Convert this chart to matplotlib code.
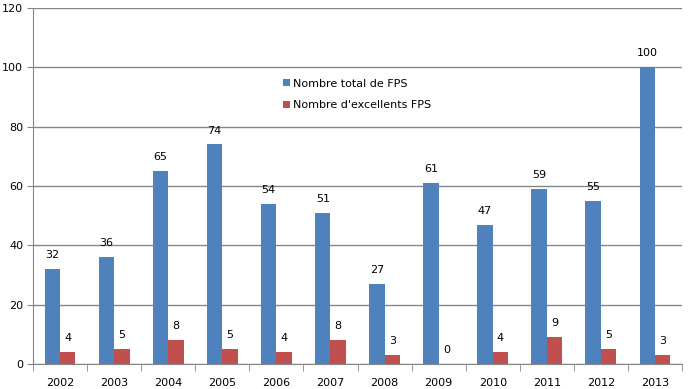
import matplotlib.pyplot as plt
import numpy as np

years = ['2002', '2003', '2004', '2005', '2006', '2007', '2008', '2009', '2010', '2011', '2012', '2013']
total_fps = [32, 36, 65, 74, 54, 51, 27, 61, 47, 59, 55, 100]
excellent_fps = [4, 5, 8, 5, 4, 8, 3, 0, 4, 9, 5, 3]

blue = '#4F81BD'
red = '#C0504D'
grey = '#868686'

fig = plt.figure(figsize=(6.89, 3.89), dpi=100)
ax = fig.add_axes([33 / 689, 25 / 389, 649 / 689, 356 / 389])

x = np.arange(len(years))
w = 0.285
ax.bar(x - w / 2, total_fps, w, color=blue, label='Nombre total de FPS', zorder=3)
ax.bar(x + w / 2, excellent_fps, w, color=red, label="Nombre d'excellents FPS", zorder=3)

for i in range(len(years)):
    ax.text(x[i] - w / 2, total_fps[i] + 3, str(total_fps[i]), ha='center', va='bottom', fontsize=8)
    ax.text(x[i] + w / 2, excellent_fps[i] + 3, str(excellent_fps[i]), ha='center', va='bottom', fontsize=8)

ax.set_xlim(-0.5, len(years) - 0.5)
ax.set_ylim(0, 120)
ax.set_yticks(np.arange(0, 121, 20))
ax.yaxis.grid(True, color=grey, linewidth=1, zorder=0)

# category labels centred, ticks between categories
ax.set_xticks(x)
ax.set_xticklabels(years, fontsize=8)
ax.set_xticks(np.arange(-0.5, len(years), 1), minor=True)
ax.tick_params(axis='x', which='major', length=0, pad=10)
ax.tick_params(axis='x', which='minor', length=5, color=grey, direction='out')
ax.tick_params(axis='y', length=4, color=grey, labelsize=8, pad=3)

for s in ['top', 'right']:
    ax.spines[s].set_visible(False)
for s in ['left', 'bottom']:
    ax.spines[s].set_color(grey)

leg = ax.legend(loc='upper left', bbox_to_anchor=(0.37, 0.83), frameon=False, fontsize=8,
                handlelength=0.6, handleheight=0.6, labelspacing=1.05, handletextpad=0.3)

fig.savefig('out.png', dpi=100)
